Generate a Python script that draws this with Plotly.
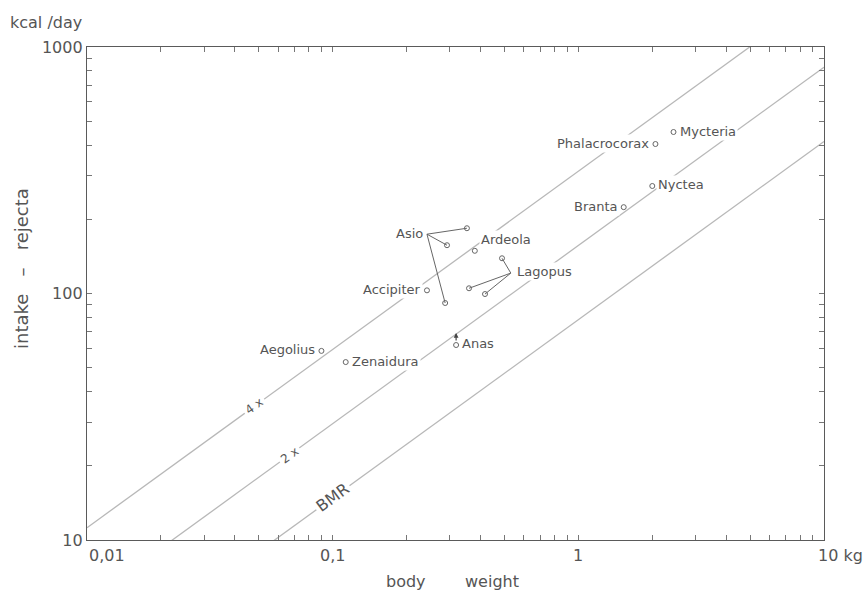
import numpy as np
import plotly.graph_objects as go

# ---------------- data ----------------
species = ["Aegolius", "Zenaidura", "Accipiter", "Ardeola", "Anas",
           "Phalacrocorax", "Mycteria", "Nyctea", "Branta"]
weight_kg = [0.090, 0.113, 0.242, 0.379, 0.318, 2.06, 2.44, 2.00, 1.53]
intake_kcal = [58.5, 52.7, 103, 149, 61.8, 404, 452, 273, 224]
label_side = ["left", "right", "left", "right", "right", "left", "right", "right", "left"]
label_dy = [1, 1, 1, 11, 2, 1, 1, 1, 1]

asio_weight = [0.352, 0.292, 0.287]
asio_intake = [184, 157, 91.5]
asio_hub = (0.242, 174)

lagopus_weight = [0.489, 0.359, 0.417]
lagopus_intake = [139, 105, 99.5]
lagopus_hub = (0.531, 121)

# allometric reference lines: y = mult * 78.3 * W^0.723
bmr_coef = 78.3
bmr_exp = 0.723
line_mult = [1, 2, 4]
line_labels = ["BMR", "2 x", "4 x"]
line_label_w = [0.100, 0.067, 0.048]

x_tick_labels = ["0,01", "0,1", "1", "10 kg"]
x_tick_vals = [0.01, 0.1, 1, 10]
y_tick_labels = ["10", "100", "1000"]
y_tick_vals = [10, 100, 1000]

# ---------------- styling ----------------
FONT = "DejaVu Sans"
TXT = "#555555"
AX = "#5a5a5a"
REF = "#b8b8b8"
NB = "\u00a0"

fig = go.Figure()

wx = np.array([0.01, 10.0])
for m in line_mult:
    fig.add_trace(go.Scatter(x=wx, y=m * bmr_coef * wx ** bmr_exp, mode="lines",
                             line=dict(color=REF, width=1.3), hoverinfo="skip",
                             showlegend=False))

# connector lines
cx, cy = [], []
for hub, ws, ys in [(asio_hub, asio_weight, asio_intake), (lagopus_hub, lagopus_weight, lagopus_intake)]:
    for w, y in zip(ws, ys):
        cx += [hub[0], w, None]
        cy += [hub[1], y, None]
fig.add_trace(go.Scatter(x=cx, y=cy, mode="lines", line=dict(color="#666666", width=1),
                         hoverinfo="skip", showlegend=False))

allw = weight_kg + asio_weight + lagopus_weight
ally = intake_kcal + asio_intake + lagopus_intake
fig.add_trace(go.Scatter(x=allw, y=ally, mode="markers",
                         marker=dict(symbol="circle-open", size=5, color="#666666",
                                     line=dict(width=1)),
                         showlegend=False))

ann = []
for s, w, y, side, dy in zip(species, weight_kg, intake_kcal, label_side, label_dy):
    ann.append(dict(x=np.log10(w), y=np.log10(y), xref="x", yref="y", text=s,
                    showarrow=False, xanchor="right" if side == "left" else "left",
                    xshift=-4 if side == "left" else 4, yshift=dy,
                    font=dict(family=FONT, size=13, color=TXT),
                    bgcolor="white", borderpad=1))
ann.append(dict(x=np.log10(asio_hub[0]), y=np.log10(asio_hub[1]), xref="x", yref="y",
                text="Asio", showarrow=False, xanchor="right", xshift=-3, yshift=1,
                font=dict(family=FONT, size=13, color=TXT), bgcolor="white", borderpad=0))
ann.append(dict(x=np.log10(lagopus_hub[0]), y=np.log10(lagopus_hub[1]), xref="x", yref="y",
                text="Lagopus", showarrow=False, xanchor="left", xshift=4, yshift=2,
                font=dict(family=FONT, size=13, color=TXT), bgcolor="white", borderpad=1))
# Anas arrow
ann.append(dict(x=np.log10(weight_kg[4]), y=np.log10(intake_kcal[4]), xref="x", yref="y",
                text="", showarrow=True, arrowhead=2, arrowsize=0.8, arrowwidth=1.2,
                arrowcolor="#444444", ax=0, ay=9, yshift=12))

# reference line labels
for m, lab, lw in zip(line_mult, line_labels, line_label_w):
    ann.append(dict(x=np.log10(lw), y=np.log10(m * bmr_coef * lw ** bmr_exp), xref="x", yref="y",
                    text=lab, showarrow=False, textangle=-36,
                    font=dict(family=FONT, size=16 if lab == "BMR" else 12, color=TXT),
                    bgcolor="white", borderpad=2))

# x tick labels
for v, t in zip(x_tick_vals, x_tick_labels):
    anchor = "left" if v in (0.01, 10) else "center"
    xs = -8 if v == 10 else 0
    ann.append(dict(x=np.log10(v), y=0, xref="x", yref="paper", text=t, showarrow=False,
                    xanchor=anchor, yanchor="top", xshift=xs, yshift=-4,
                    font=dict(family=FONT, size=16, color=TXT)))

# axis titles
ann.append(dict(x=-0.107, y=1.049, xref="paper", yref="paper", text="kcal /day",
                showarrow=False, xanchor="left", yanchor="middle",
                font=dict(family=FONT, size=16, color=TXT)))
ann.append(dict(x=0.433, y=-0.085, xref="paper", yref="paper", text="body",
                showarrow=False, xanchor="center", yanchor="middle",
                font=dict(family=FONT, size=16, color=TXT)))
ann.append(dict(x=0.55, y=-0.085, xref="paper", yref="paper", text="weight",
                showarrow=False, xanchor="center", yanchor="middle",
                font=dict(family=FONT, size=16, color=TXT)))
ann.append(dict(x=-0.088, y=0.55, xref="paper", yref="paper",
                text="intake" + NB * 3 + "–" + NB * 3 + "rejecta",
                showarrow=False, textangle=-90, xanchor="center", yanchor="middle",
                font=dict(family=FONT, size=18, color=TXT)))

xminor = [d * k for d in [0.01, 0.1, 1] for k in range(1, 10)] + [10]
yminor = [d * k for d in [10, 100] for k in range(1, 10)] + [1000]
ytext = [y_tick_labels[y_tick_vals.index(v)] if v in y_tick_vals else "" for v in yminor]

fig.update_layout(
    width=863, height=593,
    margin=dict(l=87, r=39, t=47, b=53),
    plot_bgcolor="white", paper_bgcolor="white",
    annotations=ann,
    xaxis=dict(type="log", range=[-2, 1], tickvals=xminor, showticklabels=False,
               ticks="inside", ticklen=5, tickcolor="#777777", tickwidth=1,
               showgrid=False, zeroline=False, showline=True, linecolor=AX, linewidth=1.3,
               mirror="ticks"),
    yaxis=dict(type="log", range=[1, 3], tickvals=yminor, ticktext=ytext,
               ticks="inside", ticklen=5, tickcolor="#777777", tickwidth=1,
               tickfont=dict(family=FONT, size=16, color=TXT),
               showgrid=False, zeroline=False, showline=True, linecolor=AX, linewidth=1.3,
               mirror="ticks"),
)

fig.write_html("out.html", config={"displayModeBar": False},
               post_script="document.body.style.margin='0';document.body.style.overflow='hidden';")
